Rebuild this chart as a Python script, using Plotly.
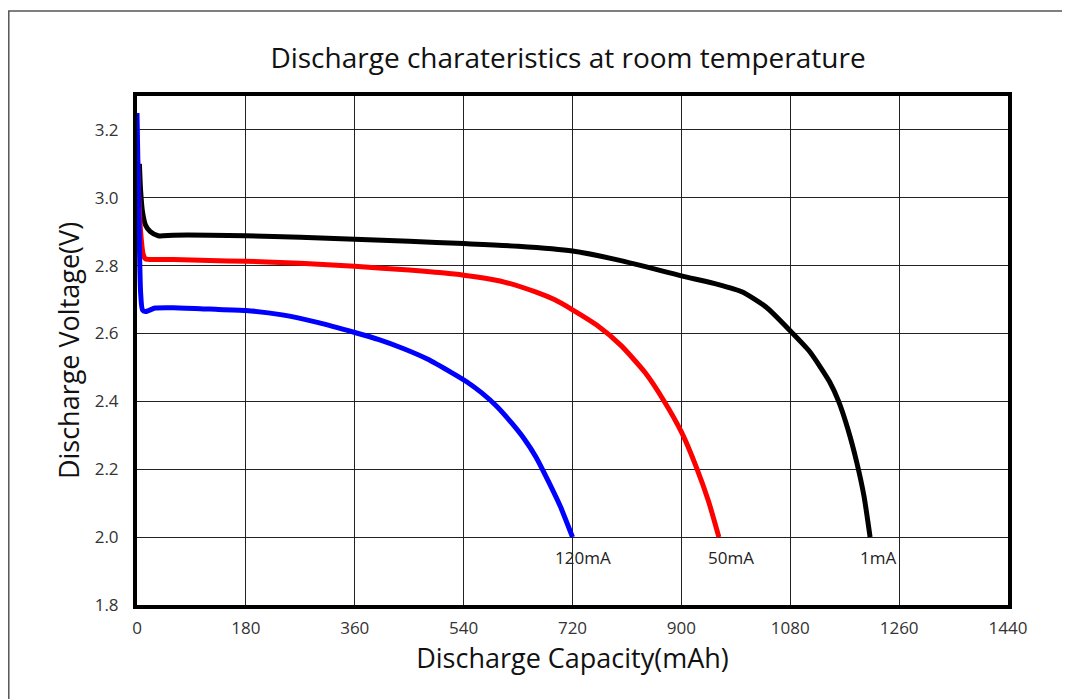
import plotly.graph_objects as go

# ---- data ----
cap_1mA = [4, 6, 9, 14, 22, 35, 60, 120, 180, 270, 360, 450, 540, 630, 720, 800, 900, 960, 1000, 1040, 1081, 1112, 1145, 1160, 1175, 1190, 1202, 1212]
volt_1mA = [3.10, 3.02, 2.96, 2.92, 2.90, 2.888, 2.89, 2.89, 2.888, 2.884, 2.878, 2.872, 2.865, 2.857, 2.843, 2.815, 2.77, 2.745, 2.723, 2.678, 2.606, 2.547, 2.458, 2.40, 2.32, 2.22, 2.12, 2.0]

cap_50mA = [0, 3, 6, 10, 14, 30, 60, 120, 180, 270, 360, 450, 540, 600, 660, 690, 720, 760, 800, 840, 870, 900, 925, 945, 962]
volt_50mA = [3.16, 3.0, 2.9, 2.835, 2.82, 2.818, 2.818, 2.815, 2.813, 2.807, 2.798, 2.787, 2.772, 2.755, 2.722, 2.70, 2.67, 2.625, 2.565, 2.485, 2.405, 2.31, 2.205, 2.105, 2.0]

cap_120mA = [0, 3, 6, 9, 14, 30, 60, 120, 180, 240, 300, 360, 400, 440, 480, 520, 545, 570, 595, 620, 640, 660, 680, 700, 720]
volt_120mA = [3.25, 2.95, 2.72, 2.67, 2.665, 2.675, 2.676, 2.672, 2.668, 2.655, 2.632, 2.603, 2.582, 2.556, 2.525, 2.485, 2.458, 2.425, 2.385, 2.335, 2.29, 2.235, 2.165, 2.09, 2.0]

series_labels = ["120mA", "50mA", "1mA"]
label_x = [737, 982, 1225]
label_y = [1.94, 1.94, 1.94]

x_ticks = [0, 180, 360, 540, 720, 900, 1080, 1260, 1440]
y_ticks = [1.8, 2.0, 2.2, 2.4, 2.6, 2.8, 3.0, 3.2]

FONT = "Open Sans"

fig = go.Figure()
line_common = dict(width=5, shape="spline", smoothing=0.6)
fig.add_trace(go.Scatter(x=cap_1mA, y=volt_1mA, mode="lines",
                         line=dict(color="black", **line_common), name="1mA"))
fig.add_trace(go.Scatter(x=cap_50mA, y=volt_50mA, mode="lines",
                         line=dict(color="#ff0000", **line_common), name="50mA"))
fig.add_trace(go.Scatter(x=cap_120mA, y=volt_120mA, mode="lines",
                         line=dict(color="#0000ff", **line_common), name="120mA"))

for t, xv, yv in zip(series_labels, label_x, label_y):
    fig.add_annotation(x=xv, y=yv, text=t, showarrow=False,
                       font=dict(family=FONT, size=17, color="#222"))

# outer frame of the picture
fig.add_shape(type="rect", xref="paper", yref="paper",
              x0=-0.1472, x1=1.3, y0=-0.4, y1=1.167,
              line=dict(color="#555", width=1.5), layer="below")

fig.update_layout(
    width=1062, height=691,
    margin=dict(l=129, r=62, t=88, b=94),
    paper_bgcolor="white", plot_bgcolor="white",
    showlegend=False,
    title=dict(text="Discharge charateristics at room temperature",
               x=(568 - 8) / 1062, xanchor="center", y=1 - 50 / 691, yanchor="middle",
               font=dict(family=FONT, size=28, color="#111")),
    font=dict(family=FONT),
)
fig.update_xaxes(range=[0, 1440], tickvals=x_ticks, ticktext=[str(v) for v in x_ticks],
                 showgrid=True, gridcolor="#222", gridwidth=1.3,
                 showline=True, linecolor="black", linewidth=4, mirror=True,
                 zeroline=False, ticks="", ticklabelstandoff=5,
                 tickfont=dict(family=FONT, size=17, color="#333"),
                 title=dict(text="Discharge Capacity(mAh)", standoff=9,
                            font=dict(family=FONT, size=27, color="#111")))
fig.update_yaxes(range=[1.8, 3.3], tickvals=y_ticks, ticktext=[f"{v:.1f}" for v in y_ticks],
                 showgrid=True, gridcolor="#222", gridwidth=1.3,
                 showline=True, linecolor="black", linewidth=4, mirror=True,
                 zeroline=False, ticks="", ticklabelstandoff=11,
                 tickfont=dict(family=FONT, size=17, color="#333"),
                 title=dict(text="Discharge Voltage(V)", standoff=8,
                            font=dict(family=FONT, size=27, color="#111")))

fig.write_html("out.html")
